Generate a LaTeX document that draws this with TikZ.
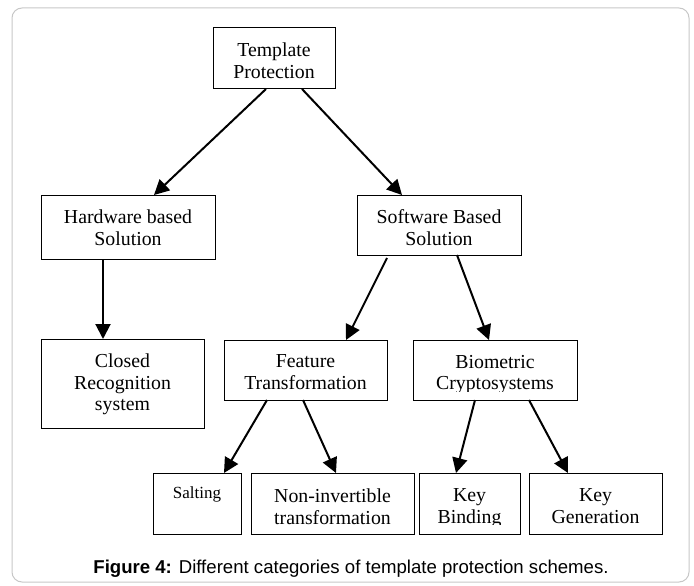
\documentclass[tikz,border=0pt]{standalone}
\usepackage{fontspec}
\setmainfont{Liberation Serif}
\newfontfamily\capfont{Liberation Sans}
\usetikzlibrary{arrows.meta}
\begin{document}
\begin{tikzpicture}[x=1pt,y=-1pt,
  frame/.style={draw=black!22, line width=1pt, rounded corners=10pt},
  box/.style={draw, line width=1pt, inner sep=0pt, outer sep=0pt, anchor=north west},
  lbl/.style={draw=none, minimum width=0pt, minimum height=0pt, font=\fontsize{19.8}{21.5}\selectfont, align=center, inner sep=0pt, anchor=north},
  smalllbl/.style={lbl, font=\fontsize{17}{19}\selectfont},
  arr/.style={line width=2pt, -{Triangle[length=15pt,width=15pt]}},
  caption/.style={font=\capfont\fontsize{18.6}{22}\selectfont, inner sep=0pt, anchor=base}]
\useasboundingbox (0,0) rectangle (694,586);
\draw[frame] (12,8) rectangle (689,582);

\node[box, minimum width=122pt, minimum height=61pt,
  path picture={\node[lbl] (tpt) at ([yshift=-15pt]path picture bounding box.north) {Template\\Protection};}]
  (tp) at (213,28) {};
\node[box, minimum width=174pt, minimum height=64pt,
  path picture={\node[lbl] (hwt) at ([yshift=-15pt]path picture bounding box.north) {Hardware based\\Solution};}]
  (hw) at (41,195) {};
\node[box, minimum width=164pt, minimum height=60pt,
  path picture={\node[lbl] (swt) at ([yshift=-15pt]path picture bounding box.north) {Software Based\\Solution};}]
  (sw) at (357,195) {};
\node[box, minimum width=163pt, minimum height=89pt,
  path picture={\node[lbl] (clt) at ([yshift=-15pt]path picture bounding box.north) {Closed\\Recognition\\system};}]
  (cl) at (41,339) {};
\node[box, minimum width=163pt, minimum height=60pt,
  path picture={\node[lbl] (ftt) at ([yshift=-15pt]path picture bounding box.north) {Feature\\Transformation};}]
  (ft) at (224,340) {};
\node[box, minimum width=164pt, minimum height=60pt,
  path picture={\clip ([yshift=9pt]path picture bounding box.south west) rectangle (path picture bounding box.north east);
    \node[lbl] (biot) at ([yshift=-15pt]path picture bounding box.north) {Biometric\\Cryptosystems};}]
  (bio) at (413,340) {};
\node[box, minimum width=88pt, minimum height=61pt,
  path picture={\node[smalllbl] (sat) at ([yshift=-14pt]path picture bounding box.north) {Salting};}]
  (sa) at (153,473) {};
\node[box, minimum width=163pt, minimum height=61pt,
  path picture={\node[lbl] (nit) at ([yshift=-16pt]path picture bounding box.north) {Non-invertible\\transformation};}]
  (ni) at (251,473) {};
\node[box, minimum width=101pt, minimum height=61pt,
  path picture={\clip ([yshift=9.5pt]path picture bounding box.south west) rectangle (path picture bounding box.north east);
    \node[lbl] (kbt) at ([yshift=-16pt]path picture bounding box.north) {Key\\Binding};}]
  (kb) at (419,473) {};
\node[box, minimum width=133pt, minimum height=61pt,
  path picture={\node[lbl] (kgt) at ([yshift=-16pt]path picture bounding box.north) {Key\\Generation};}]
  (kg) at (529,473) {};

\draw[arr] ([xshift=53pt]tp.south west) -- ([xshift=113pt]hw.north west);
\draw[arr] ([xshift=89pt]tp.south west) -- ([xshift=45pt]sw.north west);
\draw[arr] ([xshift=62pt]hw.south west) -- ([xshift=62pt]cl.north west);
\draw[arr] ([xshift=30pt,yshift=-3pt]sw.south west) -- ([xshift=122pt]ft.north west);
\draw[arr] ([xshift=100pt]sw.south west) -- ([xshift=76pt]bio.north west);
\draw[arr] ([xshift=43pt]ft.south west) -- ([xshift=71pt]sa.north west);
\draw[arr] ([xshift=79pt]ft.south west) -- ([xshift=85pt]ni.north west);
\draw[arr] ([xshift=62pt]bio.south west) -- ([xshift=37pt]kb.north west);
\draw[arr] ([xshift=116pt]bio.south west) -- ([xshift=39pt]kg.north west);

\node[caption] (cap) at (351,573) {\textbf{Figure 4:} Different categories of template protection schemes.};
\end{tikzpicture}
\end{document}
